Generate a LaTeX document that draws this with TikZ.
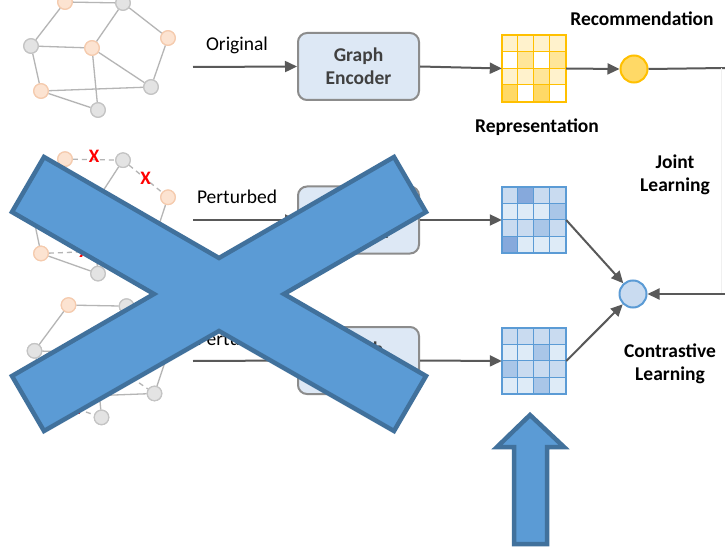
\documentclass[tikz,border=0pt]{standalone}
\usepackage{fontspec}
\setmainfont{Carlito}
\usetikzlibrary{arrows.meta,calc}

\definecolor{flowgray}{HTML}{595959}
\definecolor{boxgray}{HTML}{8C8C8C}
\definecolor{encfill}{HTML}{DDE8F5}
\definecolor{enctext}{HTML}{404040}
\definecolor{netedge}{HTML}{B5B5B5}
\definecolor{grayfill}{HTML}{E3E3E3}
\definecolor{grayline}{HTML}{C4C4C4}
\definecolor{orangefill}{HTML}{FCE3D1}
\definecolor{orangeline}{HTML}{F5CBAE}
\definecolor{gold}{HTML}{FFC000}
\definecolor{yA}{HTML}{FFF2CC}
\definecolor{yB}{HTML}{FFE699}
\definecolor{yC}{HTML}{FFD966}
\definecolor{blueline}{HTML}{5B9BD5}
\definecolor{bA}{HTML}{DEEBF7}
\definecolor{bB}{HTML}{C9DBF0}
\definecolor{bC}{HTML}{A9C6E8}
\definecolor{bD}{HTML}{86A9DC}
\definecolor{crossfill}{HTML}{5B9BD5}
\definecolor{crossline}{HTML}{41719C}

\tikzset{
  flow/.style={draw=flowgray, line width=2pt, -{Triangle[length=12pt,width=11pt]}},
  wire/.style={draw=flowgray, line width=2pt},
  encoder/.style={draw=boxgray, fill=encfill, line width=2pt, rounded corners=9pt,
    minimum width=121pt, minimum height=67pt, align=center, text=enctext,
    font=\fontsize{19.5}{23}\selectfont\bfseries},
  gnode/.style={circle, draw=grayline, fill=grayfill, line width=1.2pt, minimum size=14.5pt, inner sep=0pt},
  onode/.style={circle, draw=orangeline, fill=orangefill, line width=1.2pt, minimum size=14.5pt, inner sep=0pt},
  gedge/.style={draw=netedge, line width=1.3pt},
  gcut/.style={gedge, dash pattern=on 5pt off 4pt},
  cutmark/.style={text=red, font=\fontsize{19}{19}\selectfont\bfseries, inner sep=0pt},
  lab/.style={font=\fontsize{19.5}{23}\selectfont, align=center},
  blab/.style={font=\fontsize{19.5}{23.5}\selectfont\bfseries, align=center},
  cross/.style={fill=crossfill, draw=crossline, line width=4.5pt, line join=miter},
}

% 4x4 feature map: #1 name, #2 centre, #3 line colour, #4 cell colours
\newcommand{\featmap}[4]{%
  \node[minimum width=64pt, minimum height=66pt, inner sep=0pt] (#1) at #2 {};
  \foreach \c [count=\i from 0] in {#4}{
    \pgfmathtruncatemacro\col{mod(\i,4)}
    \pgfmathtruncatemacro\row{\i/4}
    \filldraw[fill=\c, draw=#3, line width=1.3pt]
      ($(#1.north west)+(\col*16,\row*16.5)$) rectangle ++(16,16.5);
  }
  \draw[#3, line width=2.2pt] (#1.north west) rectangle (#1.south east);
}

% the eight vertices of a user-item graph
\newcommand{\netnodes}[1]{%
  \foreach \n/\s/\p in {1/onode/{(65,2)}, 2/gnode/{(123,3)}, 3/onode/{(168,38)},
      4/gnode/{(31,46)}, 5/onode/{(92,48)}, 6/gnode/{(151,87)},
      7/onode/{(41,91)}, 8/gnode/{(98,110)}}
    \node[\s] (#1\n) at \p {};
}

\begin{document}
\begin{tikzpicture}[x=1pt, y=-1pt]
  \fill[white] (0,0) rectangle (725,548);
  \useasboundingbox (0,0) rectangle (725,548);

  % original graph
  \netnodes{a}
  \foreach \u/\v in {1/4, 1/2, 2/5, 2/3, 3/6, 4/5, 4/7, 5/6, 5/8, 7/6, 7/8}
    \draw[gedge] (a\u) -- (a\v);

  % first perturbed graph
  \begin{scope}[shift={(0,157)}, yscale=1.06]
    \netnodes{b}
  \end{scope}
  \foreach \u/\v in {1/4, 2/5, 3/6, 4/5, 4/7, 5/6, 5/8, 7/8}
    \draw[gedge] (b\u) -- (b\v);
  \draw[gcut] (b1) -- node[cutmark, yshift=3pt] (xb1) {X} (b2);
  \draw[gcut] (b2) -- node[cutmark] (xb2) {X} (b3);
  \draw[gcut] (b7) -- node[cutmark, pos=0.38] (xb3) {X} (b6);

  % second perturbed graph
  \begin{scope}[shift={(3.5,303)}, yscale=1.04]
    \netnodes{c}
  \end{scope}
  \foreach \u/\v in {1/2, 1/4, 2/5, 2/3, 3/6, 4/5, 4/7, 5/8, 7/6}
    \draw[gedge] (c\u) -- (c\v);
  \draw[gcut] (c5) -- node[cutmark] (xc1) {X} (c6);
  \draw[gcut] (c7) -- node[cutmark, pos=0.55] (xc2) {X} (c8);

  % redraw vertices over the edges
  \foreach \g in {a,b,c}
    \foreach \n/\s in {1/onode, 2/gnode, 3/onode, 4/gnode, 5/onode, 6/gnode, 7/onode, 8/gnode}
      \node[\s] at (\g\n) {};

  % encoders
  \node[encoder] (enc)  at (358.5,66.5) {Graph\\Encoder};
  \node[encoder] (enc1) at (358.5,220)  {Graph\\Encoder};
  \node[encoder] (enc2) at (358.5,360.5) {Graph\\Encoder};

  % representations
  \featmap{rep}{(534,68.5)}{gold}{yA,yA,yA,yA, white,yB,white,yB, yA,yA,yB,yA, yC,white,yC,white}
  \featmap{view1}{(534,220)}{blueline}{bB,bD,bB,bB, bA,bA,bA,bC, bB,bB,bC,bB, bD,bA,bA,bA}
  \featmap{view2}{(534,361)}{blueline}{bB,bB,bB,bB, bA,bA,bC,bA, bC,bB,bB,bB, bA,bA,bC,bA}

  \node[circle, draw=gold, fill=yC, line width=2pt, minimum size=27pt, inner sep=0pt] (rec) at (634,69) {};
  \node[circle, draw=blueline, fill=bB, line width=2pt, minimum size=27pt, inner sep=0pt] (cl) at (633,294) {};

  % inputs
  \coordinate (in0) at (193,67);
  \coordinate (in1) at (193,220);
  \coordinate (in2) at (193,361);
  \draw[flow] (in0) -- (enc.west);
  \draw[flow] (in1) -- (enc1.west);
  \draw[flow] (in2) -- (enc2.west);
  \node[lab] (orig) at (237,45) {Original};
  \node[lab] (pert1) at (237,197) {Perturbed};
  \node[lab] (pert2) at (237,339) {Perturbed};

  % encoder outputs
  \draw[flow] (enc.east) -- (rep.west);
  \draw[flow] (enc1.east) -- (view1.west);
  \draw[flow] (enc2.east) -- (view2.west);
  \draw[flow] (rep.east) -- (rec.west);
  \draw[flow] (view1.east) -- (cl);
  \draw[flow] (view2.east) -- (cl);

  % joint learning loop
  \coordinate (jt) at (725,68);
  \coordinate (jr) at (725,294);
  \draw[wire] (rec.east) -- (jt);
  \draw[black!6, line width=1pt] (721,68) -- (721,294);
  \draw[flow] (jr) -- (cl.east);

  \node[blab] (recl) at (642,19) {Recommendation};
  \node[blab] (repl) at (537,127) {Representation};
  \node[blab] (joint) at (675,175) {Joint\\Learning};
  \node[blab] (contr) at (670,364) {Contrastive\\Learning};

  % cross and up arrow
  \filldraw[cross] (44,157) -- (219,258) -- (394,157) -- (426,212) -- (284,294)
    -- (426,376) -- (394,431) -- (219,331) -- (44,431) -- (12,376) -- (154,294)
    -- (12,212) -- cycle;
  \filldraw[cross] (530,415) -- (564,447) -- (547,447) -- (547,544) -- (514,544)
    -- (514,447) -- (497,447) -- cycle;
\end{tikzpicture}
\end{document}
